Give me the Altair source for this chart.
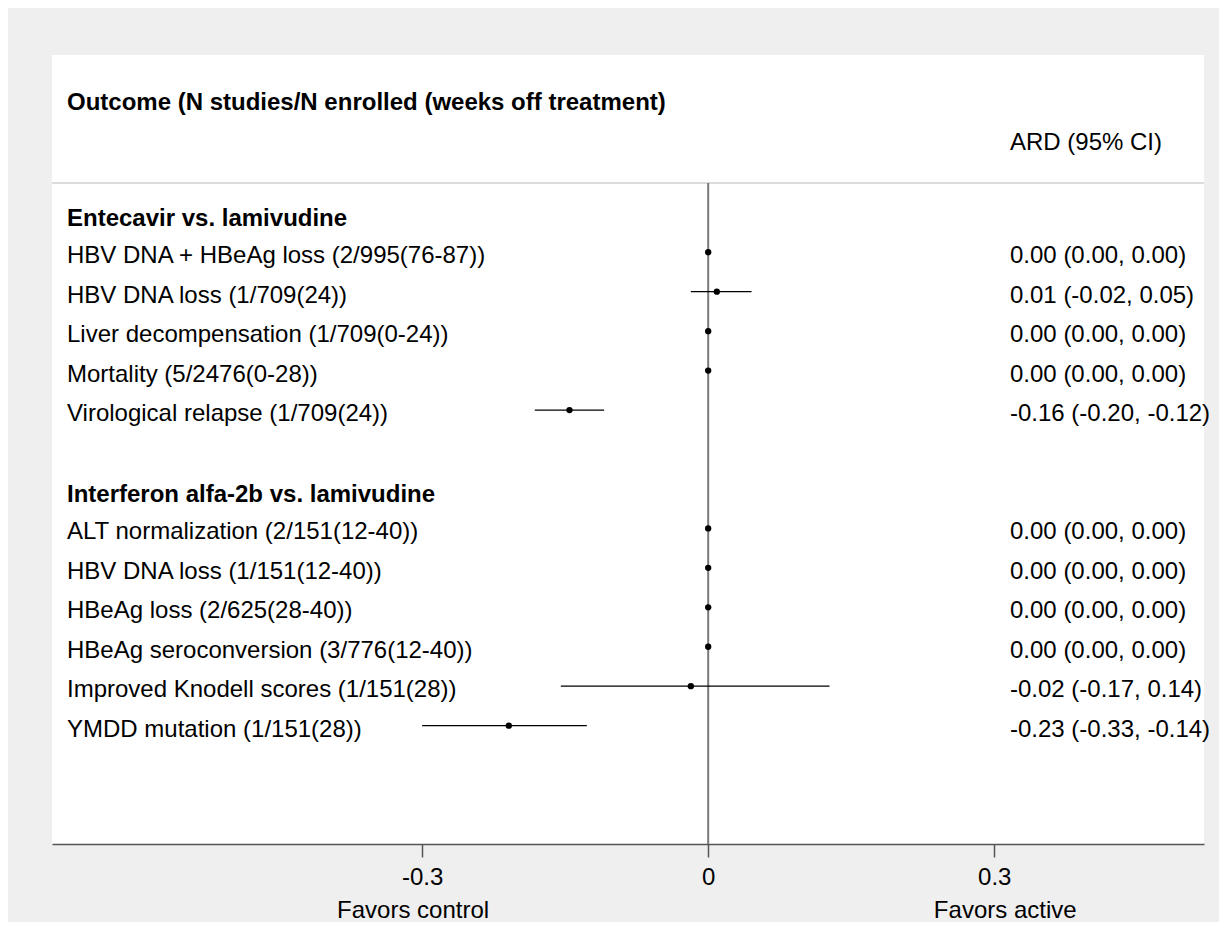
import altair as alt
import pandas as pd

# ---- data ----
group_names = ["Entecavir vs. lamivudine", "Interferon alfa-2b vs. lamivudine"]
outcomes_1 = [
    "HBV DNA + HBeAg loss (2/995(76-87))",
    "HBV DNA loss (1/709(24))",
    "Liver decompensation (1/709(0-24))",
    "Mortality (5/2476(0-28))",
    "Virological relapse (1/709(24))",
]
ard_1 = [0.00, 0.01, 0.00, 0.00, -0.16]
lo_1 = [0.00, -0.02, 0.00, 0.00, -0.20]
hi_1 = [0.00, 0.05, 0.00, 0.00, -0.12]

outcomes_2 = [
    "ALT normalization (2/151(12-40))",
    "HBV DNA loss (1/151(12-40))",
    "HBeAg loss (2/625(28-40))",
    "HBeAg seroconversion (3/776(12-40))",
    "Improved Knodell scores (1/151(28))",
    "YMDD mutation (1/151(28))",
]
ard_2 = [0.00, 0.00, 0.00, 0.00, -0.02, -0.23]
lo_2 = [0.00, 0.00, 0.00, 0.00, -0.17, -0.33]
hi_2 = [0.00, 0.00, 0.00, 0.00, 0.14, -0.14]

tick_values = [-0.33, 0, 0.33]
favors_labels = ["Favors control", "Favors active"]
title_text = "Outcome (N studies/N enrolled (weeks off treatment)"
ard_header = "ARD (95% CI)"

# ---- build tables ----
rows = []
headers = []
r = 0
for gname, outs, es, ls, hs in [
    (group_names[0], outcomes_1, ard_1, lo_1, hi_1),
    (group_names[1], outcomes_2, ard_2, lo_2, hi_2),
]:
    headers.append({"label": gname, "row": r})
    r += 1
    for o, e, l, h in zip(outs, es, ls, hs):
        rows.append({"label": o, "row": r, "est": e, "lo": l, "hi": h,
                     "ard": f"{e:.2f} ({l:.2f}, {h:.2f})"})
        r += 1
    r += 1  # blank row between groups

df = pd.DataFrame(rows)
hdf = pd.DataFrame(headers)

FONT = "Liberation Sans"
FS = 24
W, H = 1152, 789

xscale = alt.Scale(domain=[-0.757, 0.572], nice=False, zero=False)
yscale = alt.Scale(domain=[-4, 16], reverse=True, nice=False, zero=False)

base = alt.Chart(df)

xaxis = alt.Axis(
    values=tick_values,
    labelExpr="datum.value == 0 ? '0' : (datum.value < 0 ? '-' + format(-datum.value, '.1f') : format(datum.value, '.1f'))",
    grid=False, title=None,
    domainColor="#555555", domainWidth=1.5,
    tickColor="#555555", tickWidth=1.5, tickSize=13,
    labelFont=FONT, labelFontSize=FS, labelColor="black", labelPadding=8,
)

ci = base.mark_rule(color="black", strokeWidth=1.3).encode(
    x=alt.X("lo:Q", scale=xscale, axis=xaxis),
    x2="hi:Q",
    y=alt.Y("row:Q", scale=yscale, axis=None),
)

zero_line = alt.Chart(pd.DataFrame({"v": [0]})).mark_rule(
    color="#7a7a7a", strokeWidth=2
).encode(x=alt.X("v:Q", scale=xscale), y=alt.value(128), y2=alt.value(H))

header_line = alt.Chart(pd.DataFrame({"v": [0]})).mark_rule(
    color="#dcdcdc", strokeWidth=2
).encode(x=alt.value(0), x2=alt.value(W), y=alt.value(128))

points = base.mark_circle(color="black", opacity=1, size=40).encode(
    x=alt.X("est:Q", scale=xscale),
    y=alt.Y("row:Q", scale=yscale),
)

labels = base.mark_text(
    align="left", baseline="middle", font=FONT, fontSize=FS, color="black", dy=4
).encode(x=alt.value(15), y=alt.Y("row:Q", scale=yscale), text="label:N")

group_labels = alt.Chart(hdf).mark_text(
    align="left", baseline="middle", font=FONT, fontSize=FS, fontWeight="bold",
    color="black", dy=6
).encode(x=alt.value(15), y=alt.Y("row:Q", scale=yscale), text="label:N")

ard_text = base.mark_text(
    align="left", baseline="middle", font=FONT, fontSize=FS, color="black", dy=4
).encode(x=alt.value(958), y=alt.Y("row:Q", scale=yscale), text="ard:N")

title_mark = alt.Chart(pd.DataFrame({"t": [title_text]})).mark_text(
    align="left", baseline="middle", font=FONT, fontSize=FS, fontWeight="bold",
    color="black"
).encode(x=alt.value(15), y=alt.value(48), text="t:N")

ard_head = alt.Chart(pd.DataFrame({"t": [ard_header]})).mark_text(
    align="left", baseline="middle", font=FONT, fontSize=FS, color="black"
).encode(x=alt.value(958), y=alt.value(88), text="t:N")

fav_left = alt.Chart(pd.DataFrame({"x": [tick_values[0]], "t": [favors_labels[0]]})).mark_text(
    align="center", baseline="middle", font=FONT, fontSize=FS, color="black", dx=-9
).encode(x=alt.X("x:Q", scale=xscale), y=alt.value(H + 67), text="t:N")

fav_right = alt.Chart(pd.DataFrame({"x": [tick_values[2]], "t": [favors_labels[1]]})).mark_text(
    align="center", baseline="middle", font=FONT, fontSize=FS, color="black", dx=11
).encode(x=alt.X("x:Q", scale=xscale), y=alt.value(H + 67), text="t:N")

chart = alt.layer(
    header_line, zero_line, ci, points, labels, group_labels, ard_text,
    title_mark, ard_head, fav_left, fav_right,
).properties(
    width=W, height=H,
    padding={"left": 44, "top": 47, "right": 15, "bottom": 78},
    autosize=alt.AutoSizeParams(type="none"),
    background="#efefef",
).configure_view(fill="white", strokeWidth=0)

chart.save("out.html", embed_options={"renderer": "svg", "actions": False})
